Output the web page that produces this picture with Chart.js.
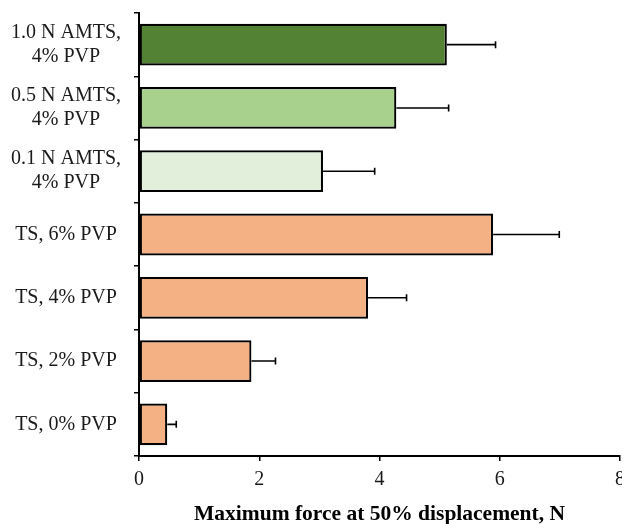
<!DOCTYPE html>
<html>
<head>
<meta charset="utf-8">
<script src="https://cdn.jsdelivr.net/npm/chart.js@4.4.1/dist/chart.umd.min.js"></script>
<style>
	html, body { margin: 0; padding: 0; background: #fff; overflow: hidden; }
	#wrap { position: relative; width: 622px; height: 524px; }
</style>
</head>
<body>
<div id="wrap"><canvas id="forceChart"></canvas></div>
<script>
// Sample names (top to bottom)
var categories = [
	['1.0 N AMTS,', '4% PVP'],
	['0.5 N AMTS,', '4% PVP'],
	['0.1 N AMTS,', '4% PVP'],
	'TS, 6% PVP',
	'TS, 4% PVP',
	'TS, 2% PVP',
	'TS, 0% PVP'
];
// Maximum force at 50% displacement, N
var forceValues = [5.12, 4.28, 3.06, 5.89, 3.81, 1.87, 0.47];
// Standard deviation (positive side only)
var forceErrors = [0.81, 0.87, 0.86, 1.10, 0.64, 0.40, 0.15];
var barColors = ['#548235', '#A9D18E', '#E2EFDA', '#F4B183', '#F4B183', '#F4B183', '#F4B183'];
var xTicks = [0, 2, 4, 6, 8];

var textColor = '#1a1a1a';
var serif = "'Liberation Serif', 'Times New Roman', serif";

// draws the one-sided error bars from forceErrors
var errorBarPlugin = {
	id: 'errorBars',
	afterDatasetsDraw: function(chart) {
		var ctx = chart.ctx;
		var xScale = chart.scales.x;
		var meta = chart.getDatasetMeta(0);
		ctx.save();
		ctx.strokeStyle = '#000';
		ctx.lineWidth = 1.6;
		meta.data.forEach(function(bar, i) {
			var x0 = xScale.getPixelForValue(forceValues[i]);
			var x1 = xScale.getPixelForValue(forceValues[i] + forceErrors[i]);
			var y = bar.y;
			ctx.beginPath();
			ctx.moveTo(x0, y);
			ctx.lineTo(x1, y);
			ctx.moveTo(x1, y - 3.5);
			ctx.lineTo(x1, y + 3.5);
			ctx.stroke();
		});
		ctx.restore();
	}
};

var ctx = document.getElementById('forceChart').getContext('2d');
var forceChart = new Chart(ctx, {
	type: 'bar',
	data: {
		labels: categories,
		datasets: [{
			data: forceValues,
			backgroundColor: barColors,
			borderColor: '#000',
			borderWidth: 2.2,
			borderSkipped: false,
			categoryPercentage: 1,
			barPercentage: 0.66
		}]
	},
	options: {
		indexAxis: 'y',
		responsive: true,
		maintainAspectRatio: false,
		animation: false,
		layout: { padding: { top: 13, left: 0, right: 2, bottom: 0 } },
		plugins: {
			legend: { display: false },
			tooltip: { enabled: false }
		},
		scales: {
			x: {
				min: 0,
				max: 8,
				afterBuildTicks: function(axis) {
					axis.ticks = xTicks.map(function(v) { return { value: v }; });
				},
				afterFit: function(axis) {
					// the last tick label is allowed to run off the edge, as in the original
					axis.height = 68;
					axis.paddingRight = 0;
				},
				border: { color: '#000', width: 2 },
				grid: {
					drawOnChartArea: false,
					drawTicks: true,
					tickLength: 5,
					color: '#000',
					lineWidth: 1.5
				},
				ticks: {
					color: textColor,
					padding: 7,
					maxRotation: 0,
					font: { family: serif, size: 20 }
				},
				title: {
					display: true,
					text: 'Maximum force at 50% displacement, N',
					color: '#000',
					padding: { top: 0, bottom: 0 },
					font: { family: serif, size: 21.5, weight: 'bold', lineHeight: 0.92 }
				}
			},
			y: {
				afterFit: function(axis) {
					axis.width = 139;
					axis.paddingTop = 0;
					axis.paddingBottom = 0;
				},
				border: { color: '#000', width: 2 },
				grid: {
					offset: true,
					drawOnChartArea: false,
					drawTicks: true,
					tickLength: 5,
					color: '#000',
					lineWidth: 1.5
				},
				ticks: {
					color: textColor,
					crossAlign: 'center',
					padding: 13,
					font: { family: serif, size: 20, lineHeight: 1.2 }
				}
			}
		}
	},
	plugins: [errorBarPlugin]
});
</script>
</body>
</html>
